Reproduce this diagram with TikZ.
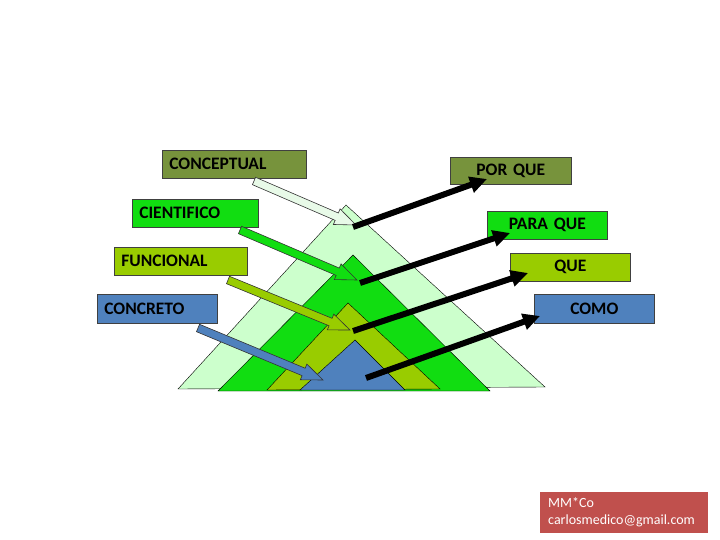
\documentclass[tikz,border=0pt]{standalone}
\usepackage{fontspec}
\setmainfont{Carlito}
\usepackage{xcolor}
\usetikzlibrary{arrows.meta, calc}

\definecolor{oliva}{HTML}{77933C}
\definecolor{verde}{HTML}{11DD11}
\definecolor{verdepalido}{HTML}{CCFFCC}
\definecolor{flecha}{HTML}{E8FAE8}
\definecolor{lima}{HTML}{99CC00}
\definecolor{azul}{HTML}{4F81BD}
\definecolor{rojo}{HTML}{C0504D}

\begin{document}
\begin{tikzpicture}[
  x=1pt, y=-1pt,
  font=\fontsize{17.5}{20}\selectfont\bfseries,
  caja/.style={rectangle, draw=black!75, line width=0.6pt, anchor=north west, inner xsep=7pt, inner ysep=0pt, align=left},
  cajader/.style={caja, align=center},
  capa/.style={draw=black, line width=0.4pt},
  bloque/.style={draw=black!80, line width=0.6pt},
  arrow/.style={line width=6pt, -{Triangle[length=17pt, width=16pt]}}
]
\useasboundingbox (0,0) rectangle (720,540);
% piramide
\draw [capa, fill=verdepalido] (178,389) -- (346,205) -- (545,387) -- cycle;
\draw [capa, fill=verde] (218,391) -- (353,255) -- (490,391) -- cycle;
\draw [capa, fill=lima] (267,390) -- (348,303) -- (440,389) -- cycle;
\draw [capa, fill=azul] (300,390) -- (355,340) -- (405,390) -- cycle;
% niveles
\node (conceptual) [caja, fill=oliva, text width=130pt, minimum height=28pt] at (162,150) {CONCEPTUAL};
\node (cientifico) [caja, fill=verde, text width=112pt, minimum height=28pt] at (132,199) {CIENTIFICO};
\node (funcional) [caja, fill=lima, text width=119pt, minimum height=28pt] at (114,247) {FUNCIONAL};
\node (concreto) [caja, fill=azul, text width=106pt, minimum height=29pt] at (97,294) {CONCRETO};
\node (porque) [cajader, fill=oliva, text width=107pt, minimum height=27pt] at (450,157) {POR QUE};
\node (paraque) [cajader, fill=verde, text width=106pt, minimum height=28pt] at (487,211) {PARA QUE};
\node (que) [cajader, fill=lima, text width=106pt, minimum height=28pt] at (510,253) {QUE};
\node (como) [cajader, fill=azul, text width=106pt, minimum height=29pt] at (534,294) {COMO};
\node (autor) [rectangle, fill=rojo, anchor=north west, inner xsep=8pt, inner ysep=0pt, text width=152pt, minimum height=41pt, align=left, text=white, font=\fontsize{14}{17}\selectfont\mdseries] at (540,492) {MM*Co\\carlosmedico@gmail.com};
% puntos de las flechas
\coordinate (c1) at (254,181);
\coordinate (c2) at (356,225);
\coordinate (n1) at (240,230);
\coordinate (n2) at (357,280);
\coordinate (f1) at (228,280);
\coordinate (f2) at (350,330);
\coordinate (r1) at (198,328);
\coordinate (r2) at (323,380);
\coordinate (a1) at (353,227);
\coordinate (a2) at (487,179);
\coordinate (b1) at (360,283);
\coordinate (b2) at (510,233);
\coordinate (d1) at (353,331);
\coordinate (d2) at (528,273);
\coordinate (e1) at (366,378);
\coordinate (e2) at (540,316);
% flechas de bloque
\foreach \a/\b/\c in {c1/c2/flecha, n1/n2/verde, f1/f2/lima, r1/r2/azul} {
  \coordinate (h) at ($(\b)!21pt!(\a)$);
  \draw [bloque, fill=\c] ($(\a)!4pt!90:(\b)$) -- ($(h)!4pt!-90:(\a)$) -- ($(h)!8.5pt!-90:(\a)$)
    -- (\b) -- ($(h)!8.5pt!90:(\a)$) -- ($(h)!4pt!90:(\a)$) -- ($(\a)!4pt!-90:(\b)$) -- cycle;
}
% flechas negras
\draw [arrow] (a1) -- (a2);
\draw [arrow] (b1) -- (b2);
\draw [arrow] (d1) -- (d2);
\draw [arrow] (e1) -- (e2);
\end{tikzpicture}
\end{document}
